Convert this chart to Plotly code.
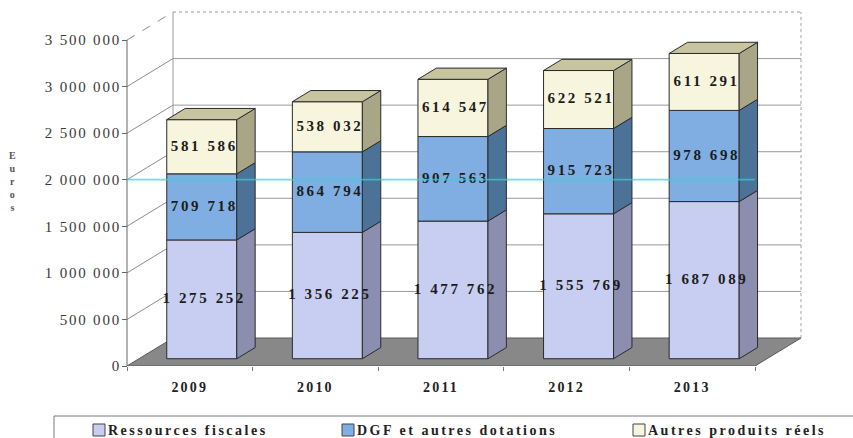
import plotly.graph_objects as go

# ---- data -------------------------------------------------------------
years = ["2009", "2010", "2011", "2012", "2013"]
ressources_fiscales = [1275252, 1356225, 1477762, 1555769, 1687089]
dgf_dotations = [709718, 864794, 907563, 915723, 978698]
autres_produits = [581586, 538032, 614547, 622521, 611291]
series_names = ["Ressources fiscales", "DGF et autres dotations", "Autres produits réels"]
y_tick_values = [0, 500000, 1000000, 1500000, 2000000, 2500000, 3000000, 3500000]
axis_title = "Euros"

# ---- styling ----------------------------------------------------------
FRONT = ["#C8CEF1", "#80AEE2", "#F7F5DE"]
SIDE = ["#8B8EAF", "#4D7298", "#A9A687"]
TOP = ["#D6DBF4", "#9CC0EA", "#C7C4A0"]
EDGE = "#2b2b2b"
FLOOR = "#888888"
GRID = "#9a9a9a"
SERIF = "Liberation Serif, Times New Roman, serif"

W, H = 853, 438
PLOT_BOTTOM_PX = 366                 # pixel row of value 0 on the front plane
Y_MAX_TICK = y_tick_values[-1]
EUR_PER_PX = Y_MAX_TICK / 326.0
PX_PER_CAT = 125.6
FRONT_AXIS_PX = 127
C0_PX = FRONT_AXIS_PX + PX_PER_CAT / 2

# oblique depth: full depth shifts right and up
DX = 46 / PX_PER_CAT
DY = 28 * EUR_PER_PX
D_FRONT, D_BACK = 0.26, 0.66         # bar depth span
BAR_W = 70 / PX_PER_CAT

n = len(years)
LEFT, RIGHT = -0.5, n - 0.5


def proj(c, v, d):
    return c + d * DX, v + d * DY


def fmt(v):
    return f"{v:,}".replace(",", " ")


def spaced(s, px=2):
    return f'<span style="letter-spacing:{px}px">{s}</span>'


def path(points):
    return "M " + " L ".join(f"{x},{y}" for x, y in points) + " Z"


fig = go.Figure()
shapes = []

# ---- floor ------------------------------------------------------------
floor_pts = [proj(LEFT, 0, 0), proj(RIGHT, 0, 0), proj(RIGHT, 0, 1), proj(LEFT, 0, 1)]
shapes.append(dict(type="path", path=path(floor_pts), xref="x", yref="y",
                   fillcolor=FLOOR, line=dict(color="#5a5a5a", width=1), layer="below"))

# ---- walls: gridlines on the side wall and the back wall ---------------
for v in y_tick_values[1:]:
    top = v == Y_MAX_TICK
    a = proj(LEFT, v, 0)
    b = proj(LEFT, v, 1)
    c = proj(RIGHT, v, 1)
    shapes.append(dict(type="line", xref="x", yref="y", x0=a[0], y0=a[1], x1=b[0], y1=b[1],
                       line=dict(color="#8c8c8c", width=1, dash="dash" if top else "solid"),
                       layer="below"))
    shapes.append(dict(type="line", xref="x", yref="y", x0=b[0], y0=b[1], x1=c[0], y1=c[1],
                       line=dict(color=GRID, width=1, dash="dot" if top else "solid"),
                       layer="below"))

# back-left vertical edge, back-right dotted edge, front value axis
bl0, bl1 = proj(LEFT, 0, 1), proj(LEFT, Y_MAX_TICK, 1)
br0, br1 = proj(RIGHT, 0, 1), proj(RIGHT, Y_MAX_TICK, 1)
fa0, fa1 = proj(LEFT, 0, 0), proj(LEFT, Y_MAX_TICK, 0)
shapes.append(dict(type="line", xref="x", yref="y", x0=bl0[0], y0=bl0[1], x1=bl1[0], y1=bl1[1],
                   line=dict(color=GRID, width=1), layer="below"))
shapes.append(dict(type="line", xref="x", yref="y", x0=br0[0], y0=br0[1], x1=br1[0], y1=br1[1],
                   line=dict(color="#a0a0a0", width=1, dash="dot"), layer="below"))
shapes.append(dict(type="line", xref="x", yref="y", x0=fa0[0], y0=fa0[1], x1=fa1[0], y1=fa1[1],
                   line=dict(color="#666666", width=1), layer="below"))

# ---- stacked 3D columns ---------------------------------------------------
stack = [ressources_fiscales, dgf_dotations, autres_produits]
base = [0] * n
for s, vals in enumerate(stack):
    xs_front = [i + D_FRONT * DX for i in range(n)]
    bases = [base[i] + D_FRONT * DY for i in range(n)]
    fig.add_trace(go.Bar(
        x=xs_front, y=vals, base=bases, width=BAR_W, name=series_names[s],
        marker=dict(color=FRONT[s], line=dict(color=EDGE, width=1)),
        showlegend=False, hoverinfo="skip"))

    side_x, side_y, top_x, top_y = [], [], [], []
    for i in range(n):
        v0, v1 = base[i], base[i] + vals[i]
        xr = i + BAR_W / 2
        xl = i - BAR_W / 2
        for p in [proj(xr, v0, D_FRONT), proj(xr, v0, D_BACK), proj(xr, v1, D_BACK),
                  proj(xr, v1, D_FRONT), proj(xr, v0, D_FRONT)]:
            side_x.append(p[0]); side_y.append(p[1])
        side_x.append(None); side_y.append(None)
        if s == len(stack) - 1:
            for p in [proj(xl, v1, D_FRONT), proj(xr, v1, D_FRONT), proj(xr, v1, D_BACK),
                      proj(xl, v1, D_BACK), proj(xl, v1, D_FRONT)]:
                top_x.append(p[0]); top_y.append(p[1])
            top_x.append(None); top_y.append(None)
    fig.add_trace(go.Scatter(x=side_x, y=side_y, mode="lines", fill="toself",
                             fillcolor=SIDE[s], line=dict(color=EDGE, width=1),
                             showlegend=False, hoverinfo="skip"))
    if top_x:
        fig.add_trace(go.Scatter(x=top_x, y=top_y, mode="lines", fill="toself",
                                 fillcolor=TOP[s], line=dict(color=EDGE, width=1),
                                 showlegend=False, hoverinfo="skip"))

    # value labels centred on each front face
    fig.add_trace(go.Scatter(
        x=[i + D_FRONT * DX + 0.02 for i in range(n)],
        y=[base[i] + vals[i] / 2 + D_FRONT * DY for i in range(n)],
        text=[spaced(fmt(v), 2.6) for v in vals], mode="text",
        textfont=dict(family=SERIF, size=15, color="#1c1c1c", weight="bold"),
        textposition="middle center", cliponaxis=False,
        showlegend=False, hoverinfo="skip"))
    base = [base[i] + vals[i] for i in range(n)]

# cyan streak across the 2 000 000 level
fig.add_trace(go.Scatter(x=[LEFT, RIGHT], y=[2000000, 2000000], mode="lines",
                         line=dict(color="rgba(60,205,215,0.7)", width=1.8),
                         showlegend=False, hoverinfo="skip"))

# ---- legend (drawn as a boxed row under the chart) ---------------------
def px_x(px):
    return px / W


def px_y(py):
    return (PLOT_BOTTOM_PX - py) / PLOT_BOTTOM_PX


shapes.append(dict(type="rect", xref="paper", yref="paper",
                   x0=px_x(54), x1=px_x(870), y0=px_y(416), y1=px_y(450),
                   line=dict(color="#7a7a7a", width=1), fillcolor="rgba(0,0,0,0)"))
annotations = []
legend_x = [93, 342, 633]
for s, name in enumerate(series_names):
    x0 = legend_x[s]
    shapes.append(dict(type="rect", xref="paper", yref="paper",
                       x0=px_x(x0), x1=px_x(x0 + 12), y0=px_y(424), y1=px_y(436),
                       line=dict(color="#444444", width=1), fillcolor=FRONT[s]))
    annotations.append(dict(xref="paper", yref="paper", x=px_x(x0 + 13), y=px_y(430),
                            xanchor="left", yanchor="middle", showarrow=False,
                            text=spaced(name, 2.5),
                            font=dict(family=SERIF, size=14, color="#222222", weight="bold")))

annotations.append(dict(xref="paper", yref="paper", x=px_x(12), y=px_y(181),
                        xanchor="center", yanchor="middle", showarrow=False,
                        text="<br>".join(axis_title),
                        font=dict(family=SERIF, size=10, color="#555555", weight="bold")))

x_lo = (0 - C0_PX) / PX_PER_CAT
x_hi = (W - C0_PX) / PX_PER_CAT

fig.update_layout(
    width=W, height=H,
    margin=dict(l=0, r=0, t=0, b=H - PLOT_BOTTOM_PX),
    paper_bgcolor="white", plot_bgcolor="white",
    barmode="overlay", showlegend=False,
    shapes=shapes, annotations=annotations,
    xaxis=dict(range=[x_lo, x_hi], showgrid=False, zeroline=False, showline=False,
               tickmode="array", tickvals=list(range(n)),
               ticktext=[spaced(f"<b>{y}</b>", 2.2) for y in years],
               ticks="", ticklabelstandoff=11,
               tickfont=dict(family=SERIF, size=14, color="#222222"),
               minor=dict(tickmode="array", tickvals=[k - 0.5 for k in range(n + 1)],
                          ticks="outside", ticklen=4, tickcolor="#777777")),
    yaxis=dict(range=[0, PLOT_BOTTOM_PX * EUR_PER_PX], anchor="free",
               position=FRONT_AXIS_PX / W, showgrid=False, zeroline=False, showline=False,
               tickmode="array", tickvals=y_tick_values,
               ticktext=[spaced(fmt(v), 1.8) for v in y_tick_values],
               ticks="outside", ticklen=5, tickcolor="#666666", ticklabelstandoff=-2,
               tickfont=dict(family=SERIF, size=15, color="#3a3a3a")),
)

fig.write_html("out.html")
